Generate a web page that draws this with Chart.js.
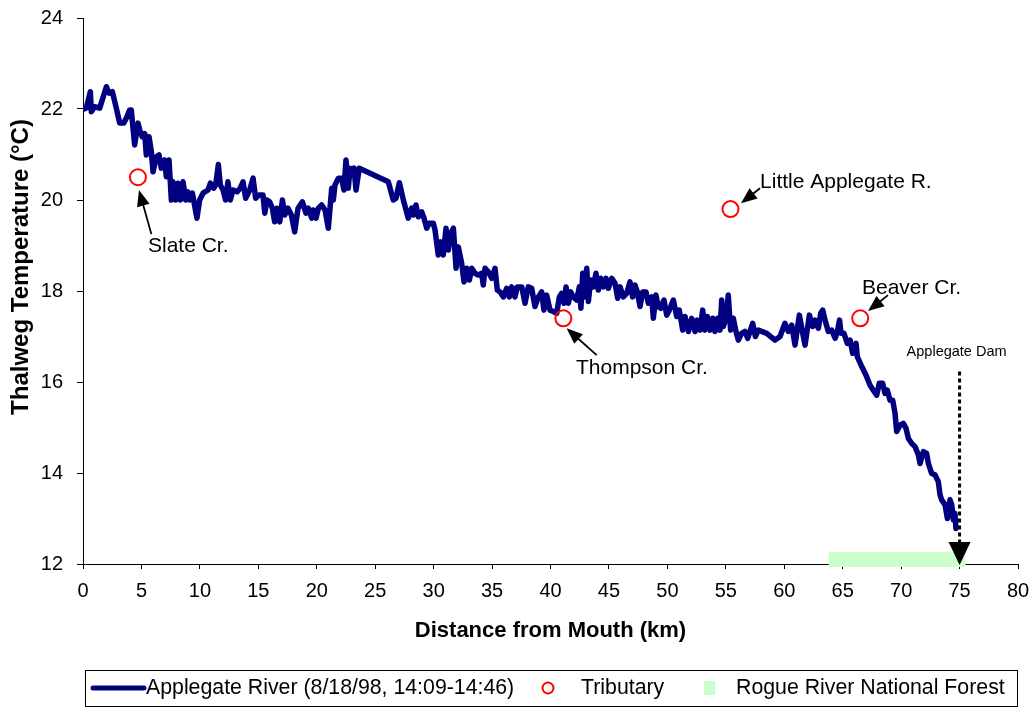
<!DOCTYPE html>
<html><head><meta charset="utf-8">
<script src="https://cdn.jsdelivr.net/npm/chart.js@4/dist/chart.umd.min.js"></script>
<style>html,body{margin:0;padding:0;background:#fff}#wrap{width:1032px;height:707px}</style>
</head><body><div id="wrap"><canvas id="c" width="1032" height="707"></canvas></div>
<script>
// ---- data ----
const riverKm = [0.1,0.28,0.63,0.71,1.0,1.43,1.65,2.0,2.22,2.51,2.85,3.14,3.48,3.71,4.0,4.13,4.42,4.71,4.85,5.07,5.28,5.42,5.65,5.85,5.99,6.28,6.5,6.7,6.99,7.13,7.36,7.56,7.7,7.93,8.13,8.33,8.56,8.79,8.98,9.13,9.36,9.75,9.98,10.27,10.7,10.9,11.18,11.35,11.58,11.75,11.98,12.2,12.4,12.6,12.83,13.18,13.46,13.69,13.92,14.26,14.55,14.77,15.06,15.4,15.55,15.74,15.97,16.2,16.4,16.6,16.83,17.06,17.26,17.54,17.83,18.11,18.4,18.77,19.08,19.28,19.57,19.7,19.94,20.14,20.42,20.71,20.99,21.28,21.42,21.56,21.85,22.13,22.33,22.5,22.7,22.85,23.07,23.19,23.36,23.64,26.12,26.55,26.78,27.07,27.41,27.83,28.12,28.26,28.49,28.69,28.98,29.18,29.41,29.63,29.97,30.12,30.4,30.6,30.83,31.06,31.26,31.46,31.69,31.92,32.11,32.4,32.6,32.83,33.06,33.26,33.54,33.82,34.11,34.25,34.4,34.68,34.97,35.25,35.45,35.68,35.97,36.25,36.48,36.68,36.96,37.16,37.54,37.82,38.1,38.39,38.67,38.96,39.24,39.44,39.67,39.96,40.24,40.53,40.76,40.96,41.16,41.33,41.53,41.73,41.95,42.24,42.47,42.6,42.76,42.9,43.1,43.24,43.44,43.66,43.89,44.09,44.3,44.52,44.75,44.95,45.24,45.52,45.75,45.95,46.23,46.52,46.8,47.03,47.23,47.43,47.66,47.89,48.17,48.37,48.66,48.8,49.02,49.22,49.43,49.71,49.94,50.17,50.51,50.8,51.02,51.31,51.51,51.8,52.08,52.37,52.56,52.8,53.02,53.22,53.42,53.65,53.88,54.07,54.3,54.5,54.65,54.78,55.02,55.21,55.41,55.64,55.87,56.07,56.35,56.64,56.87,57.07,57.3,57.53,57.78,58.5,59.21,59.64,60.06,60.35,60.64,60.92,61.29,61.58,61.78,62.15,62.43,62.63,62.92,63.12,63.29,63.49,63.77,64.06,64.35,64.55,64.73,64.86,65.11,65.4,65.63,65.86,66.14,66.25,66.63,67.0,67.34,67.62,67.91,68.13,68.42,68.62,68.82,69.05,69.28,69.48,69.62,69.9,70.19,70.42,70.62,70.91,71.19,71.47,71.62,71.9,72.18,72.33,72.61,72.9,73.18,73.33,73.47,73.76,73.96,74.18,74.33,74.47,74.6,74.69];
const riverTemp = [22.0,22.02,22.38,21.94,22.05,22.02,22.2,22.49,22.35,22.38,22.02,21.69,21.69,21.8,21.98,21.98,21.21,21.69,21.54,21.39,21.46,20.99,21.39,21.06,20.62,20.95,20.99,20.7,20.88,20.51,20.88,20.0,20.4,20.0,20.37,20.0,20.4,20.0,20.18,20.0,20.15,19.6,20.0,20.15,20.22,20.37,20.26,20.33,20.78,20.33,20.22,20.0,20.4,20.0,20.22,20.18,20.26,20.4,20.04,20.22,20.48,20.04,20.11,20.11,19.71,20.0,19.96,19.82,19.52,19.82,19.52,20.0,19.67,19.82,19.67,19.3,19.82,19.96,19.71,19.82,19.6,19.78,19.6,19.82,19.89,19.78,19.38,20.26,20.0,20.33,20.48,20.48,20.22,20.88,20.26,20.7,20.59,20.7,20.22,20.7,20.4,20.0,20.04,20.38,20.0,19.6,19.82,19.67,19.89,19.63,19.74,19.6,19.38,19.49,19.49,19.34,18.79,19.08,18.79,19.38,18.9,19.27,19.38,18.5,18.97,18.61,18.2,18.5,18.24,18.5,18.39,18.35,18.39,18.13,18.5,18.42,18.28,18.5,18.02,17.98,17.87,18.06,17.87,18.09,17.87,18.09,18.09,17.73,18.09,18.06,17.66,17.87,17.98,17.58,17.91,17.58,17.55,17.51,17.87,17.95,17.73,18.09,17.73,17.98,17.87,17.8,18.09,17.62,18.39,17.87,18.5,17.77,18.24,18.09,18.39,18.02,18.28,18.09,18.28,18.06,18.28,18.17,17.84,18.09,17.87,17.95,18.2,17.87,18.13,17.98,17.66,17.98,17.98,17.73,17.87,17.4,17.91,17.66,17.62,17.8,17.47,17.58,17.8,17.44,17.58,17.14,17.44,17.11,17.4,17.11,17.36,17.14,17.58,17.14,17.44,17.14,17.4,17.11,17.4,17.14,17.8,17.22,17.4,17.91,17.14,17.4,17.11,16.92,17.07,17.11,16.96,17.11,17.29,17.0,17.14,17.07,16.92,17.0,17.29,17.11,17.25,16.81,17.47,17.07,16.81,17.47,17.22,17.36,17.18,17.51,17.58,17.36,17.11,17.14,16.96,17.11,17.36,17.07,17.07,16.85,16.92,16.63,16.85,16.56,16.34,16.15,15.93,15.82,15.71,15.97,15.97,15.75,15.82,15.6,15.6,15.31,14.91,15.05,15.09,14.98,14.76,14.65,14.58,14.4,14.21,14.47,14.43,14.21,13.99,13.96,13.81,13.52,13.41,13.3,13.0,13.41,13.3,12.97,13.11,12.78];

const tribKm = [4.7, 41.1, 55.4, 66.5];
const tribTemp = [20.5, 17.4, 19.8, 17.4];
const tribNames = ['Slate Cr.', 'Thompson Cr.', 'Little Applegate R.', 'Beaver Cr.'];
// label anchor (left, middle) and arrow tail -> head, in data units
const labelKm = [5.56, 42.18, 57.93, 66.65];
const labelTemp = [18.99, 16.31, 20.4, 18.07];
const arrowTailKm = [5.85, 43.95, 57.93, 68.88];
const arrowTailTemp = [19.25, 16.59, 20.26, 17.91];
const arrowHeadKm = [4.79, 41.38, 56.3, 67.17];
const arrowHeadTemp = [20.22, 17.18, 19.93, 17.56];

const forestKm = [63.8, 75.5];
const forestTemp = [12.1, 12.1];

const damKm = 75;
const damTopTemp = 16.23;
const damTipTemp = 12.0;
const damLabel = 'Applegate Dam';
const damLabelKm = 70.47;
const damLabelTemp = 16.66;

const xMin = 0, xMax = 80, xStep = 5;
const yMin = 12, yMax = 24, yStep = 2;

const xTitle = 'Distance from Mouth (km)';
const yTitle = 'Thalweg Temperature (°C)';
const seriesNames = ['Applegate River (8/18/98, 14:09-14:46)', 'Tributary', 'Rogue River National Forest'];
const navy = '#000080';
const FONT = '"Liberation Sans", Arial, sans-serif';

function arrowHead(ctx, x1, y1, x2, y2, len, half) {
  const a = Math.atan2(y2 - y1, x2 - x1);
  ctx.beginPath();
  ctx.moveTo(x2, y2);
  ctx.lineTo(x2 - len * Math.cos(a) + half * Math.sin(a), y2 - len * Math.sin(a) - half * Math.cos(a));
  ctx.lineTo(x2 - len * Math.cos(a) - half * Math.sin(a), y2 - len * Math.sin(a) + half * Math.cos(a));
  ctx.closePath();
  ctx.fill();
}

const annotPlugin = {
  id: 'annot',
  afterDatasetsDraw(chart) {
    const ctx = chart.ctx, xs = chart.scales.x, ys = chart.scales.y;
    ctx.save();
    ctx.fillStyle = '#000'; ctx.strokeStyle = '#000';
    ctx.font = '21px ' + FONT;
    ctx.textBaseline = 'middle'; ctx.textAlign = 'left';
    for (let i = 0; i < tribNames.length; i++) {
      const x1 = xs.getPixelForValue(arrowTailKm[i]), y1 = ys.getPixelForValue(arrowTailTemp[i]);
      const x2 = xs.getPixelForValue(arrowHeadKm[i]), y2 = ys.getPixelForValue(arrowHeadTemp[i]);
      const a = Math.atan2(y2 - y1, x2 - x1);
      ctx.lineWidth = 1.8;
      ctx.beginPath(); ctx.moveTo(x1, y1); ctx.lineTo(x2 - 10 * Math.cos(a), y2 - 10 * Math.sin(a)); ctx.stroke();
      arrowHead(ctx, x1, y1, x2, y2, 16, 6.5);
      ctx.fillText(tribNames[i], xs.getPixelForValue(labelKm[i]), ys.getPixelForValue(labelTemp[i]));
    }
    const dx = xs.getPixelForValue(damKm);
    const dTop = ys.getPixelForValue(damTopTemp), dTip = ys.getPixelForValue(damTipTemp);
    ctx.lineWidth = 3; ctx.setLineDash([4, 3]);
    ctx.beginPath(); ctx.moveTo(dx, dTop); ctx.lineTo(dx, dTip - 20); ctx.stroke();
    ctx.setLineDash([]);
    ctx.beginPath(); ctx.moveTo(dx, dTip + 1); ctx.lineTo(dx - 11, dTip - 22); ctx.lineTo(dx + 11, dTip - 22); ctx.closePath(); ctx.fill();
    ctx.font = '14.5px ' + FONT;
    ctx.fillText(damLabel, xs.getPixelForValue(damLabelKm), ys.getPixelForValue(damLabelTemp));
    ctx.restore();
  },
  afterDraw(chart) {
    const ctx = chart.ctx;
    ctx.save();
    // y axis title
    ctx.save();
    ctx.translate(21, 267); ctx.rotate(-Math.PI / 2);
    ctx.fillStyle = '#000'; ctx.font = 'bold 24px ' + FONT;
    ctx.textAlign = 'center'; ctx.textBaseline = 'middle';
    ctx.fillText(yTitle, 0, 0);
    ctx.restore();
    // legend
    ctx.strokeStyle = '#000'; ctx.lineWidth = 1;
    ctx.strokeRect(85.5, 670.5, 932, 36);
    const cy = 688;
    ctx.strokeStyle = navy; ctx.lineWidth = 5; ctx.lineCap = 'round';
    ctx.beginPath(); ctx.moveTo(93, cy); ctx.lineTo(144, cy); ctx.stroke();
    ctx.lineCap = 'butt';
    ctx.strokeStyle = '#ff0000'; ctx.lineWidth = 2;
    ctx.beginPath(); ctx.arc(548, cy, 5.5, 0, Math.PI * 2); ctx.stroke();
    ctx.fillStyle = '#ccffcc';
    ctx.fillRect(704, cy - 7, 11, 14);
    ctx.fillStyle = '#000';
    ctx.font = '21.3px ' + FONT; ctx.textBaseline = 'middle'; ctx.textAlign = 'left';
    ctx.fillText(seriesNames[0], 146, cy);
    ctx.fillText(seriesNames[1], 581, cy);
    ctx.fillText(seriesNames[2], 736, cy);
    ctx.restore();
  }
};

const chart = new Chart(document.getElementById('c'), {
  data: {
    datasets: [
      {
        type: 'scatter', label: seriesNames[1],
        data: tribKm.map((x, i) => ({x, y: tribTemp[i]})),
        pointStyle: 'circle', pointRadius: 8, pointHoverRadius: 8,
        borderColor: '#ff0000', backgroundColor: 'rgba(255,255,255,0)', pointBorderWidth: 2
      },
      {
        type: 'line', label: seriesNames[0],
        data: riverKm.map((x, i) => ({x, y: riverTemp[i]})),
        borderColor: navy, borderWidth: 5.5, pointRadius: 0, tension: 0,
        borderJoinStyle: 'round', borderCapStyle: 'round', fill: false
      },
      {
        type: 'line', label: seriesNames[2],
        data: forestKm.map((x, i) => ({x, y: forestTemp[i]})),
        borderColor: '#ccffcc', borderWidth: 15, borderCapStyle: 'butt',
        pointRadius: 0, fill: false, clip: false
      }
    ]
  },
  options: {
    responsive: false, animation: false, devicePixelRatio: 1,
    layout: { padding: { top: 18, right: 14, bottom: 60, left: 0 } },
    plugins: { legend: { display: false }, tooltip: { enabled: false } },
    events: [],
    scales: {
      x: {
        type: 'linear', min: xMin, max: xMax,
        ticks: { stepSize: xStep, color: '#000', font: { family: FONT, size: 20 }, padding: 10, maxRotation: 0 },
        grid: { drawOnChartArea: false, drawTicks: true, tickLength: 5, color: '#000' },
        border: { display: true, color: '#000', width: 1 },
        title: { display: true, text: xTitle, color: '#000', font: { family: FONT, size: 22, weight: 'bold' }, padding: { top: 0, bottom: 3 } },
        afterFit(s) { s.height = 83; s.paddingLeft = 0; s.paddingRight = 0; }
      },
      y: {
        type: 'linear', min: yMin, max: yMax,
        ticks: { stepSize: yStep, color: '#000', font: { family: FONT, size: 20 }, padding: 14 },
        grid: { drawOnChartArea: false, drawTicks: true, tickLength: 6, color: '#000' },
        border: { display: true, color: '#000', width: 1 },
        title: { display: false },
        afterFit(s) { s.width = 83; s.paddingTop = 0; s.paddingBottom = 0; }
      }
    }
  },
  plugins: [annotPlugin]
});
</script></body></html>
